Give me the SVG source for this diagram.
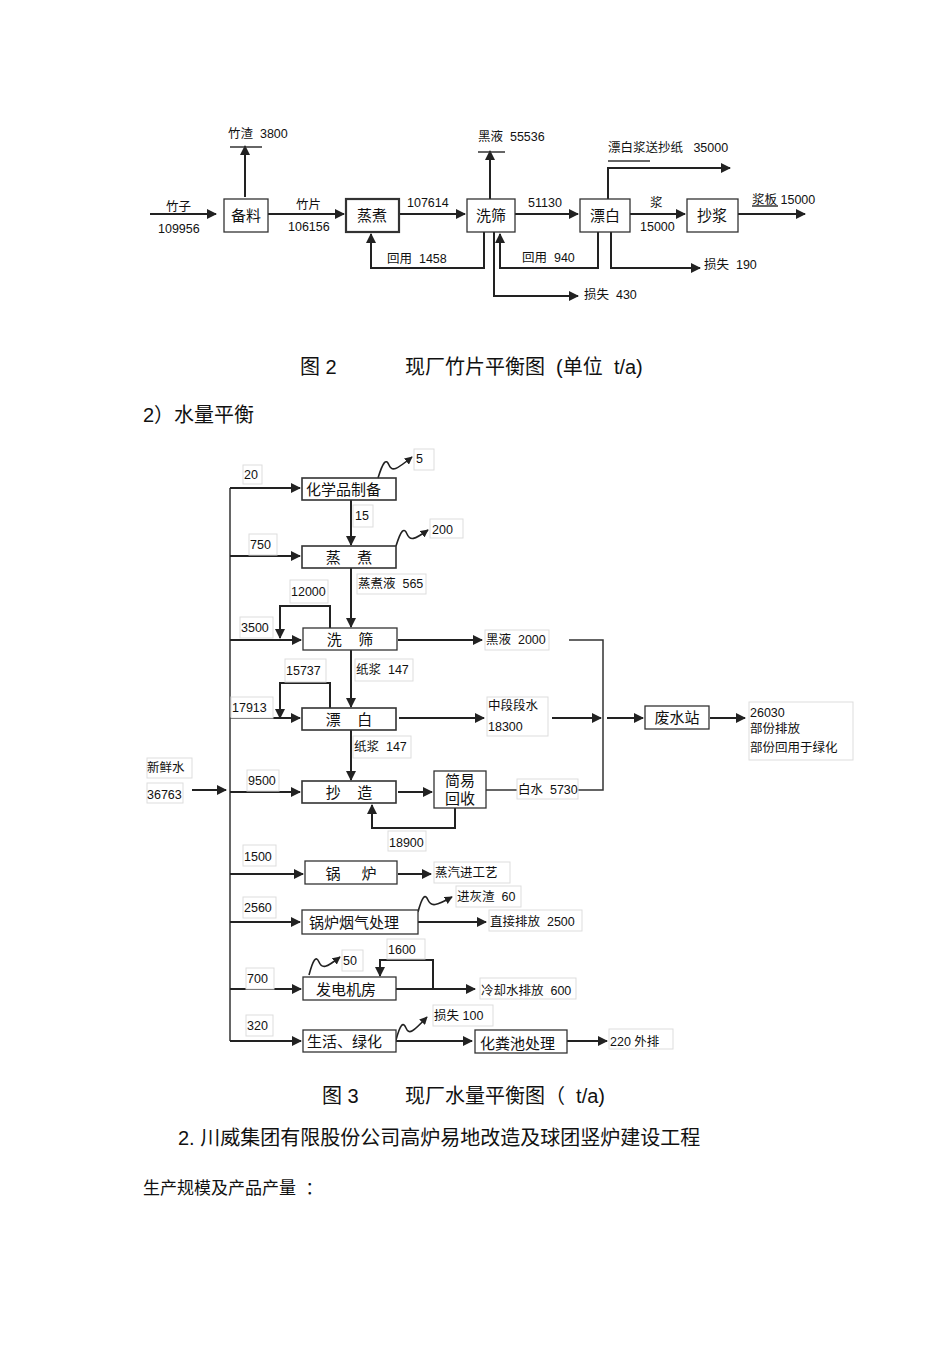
<svg xmlns="http://www.w3.org/2000/svg" width="950" height="1345" viewBox="0 0 950 1345" xml:space="preserve">
<style>
text{font-family:"Liberation Sans","Noto Sans CJK SC",sans-serif;fill:#111;white-space:pre}
.s{font-size:12.5px}.b{font-size:15px}.c{font-size:20px}
.bx{fill:#fff;stroke:#333;stroke-width:1.3}
.tb{fill:none;stroke:#333;stroke-width:2.2}
.lb{fill:#fff;stroke:#ddd;stroke-width:1}
.ln{fill:none;stroke:#333;stroke-width:1.5}
.ar{fill:none;stroke:#222;stroke-width:2;marker-end:url(#a)}
.wv{fill:none;stroke:#222;stroke-width:1.6;marker-end:url(#a)}
</style>
<defs><marker id="a" viewBox="0 0 10 10" refX="9" refY="5" markerWidth="5" markerHeight="5" orient="auto"><path d="M0,0L10,5L0,10z" fill="#222"/></marker></defs>
<rect width="950" height="1345" fill="#fff"/>
<g id="connectors1">
<path class="ar" d="M150,214H216"/>
<path class="ar" d="M268,214H344"/>
<path class="ar" d="M399,214H465"/>
<path class="ar" d="M515,214H578"/>
<path class="ar" d="M630,214H685"/>
<path class="ar" d="M738,214H805"/>
<path class="ar" d="M245,197V146"/>
<path class="ln" d="M230,147H262"/>
<path class="ar" d="M490,199V151"/>
<path class="ln" d="M478,152H505"/>
<path class="ar" d="M608,199V168H730"/>
<path class="ln" d="M608,161H650"/>
<path class="ar" d="M484,232V268H371V234"/>
<path class="ar" d="M598,232V268H500V234"/>
<path class="ar" d="M611,232V268H700"/>
<path class="ar" d="M494,232V296H578"/>
<path class="ln" d="M752,206H778"/>
</g>
<g id="fig1-nodes">
<g id="n-beiliao"><rect class="bx" x="224" y="199" width="44" height="33"/><text class="b" x="246" y="221" text-anchor="middle">备料</text></g>
<g id="n-zhengzhu"><rect class="tb" x="346" y="199" width="53" height="33"/><text class="b" x="372" y="221" text-anchor="middle">蒸煮</text></g>
<g id="n-xishai"><rect class="bx" x="467" y="199" width="48" height="33"/><text class="b" x="491" y="221" text-anchor="middle">洗筛</text></g>
<g id="n-piaobai"><rect class="bx" x="580" y="199" width="50" height="33"/><text class="b" x="605" y="221" text-anchor="middle">漂白</text></g>
<g id="n-chaojiang"><rect class="bx" x="687" y="199" width="51" height="33"/><text class="b" x="712" y="221" text-anchor="middle">抄浆</text></g>
</g>
<g id="fig1-labels" class="s">
<text x="166" y="211">竹子</text><text x="158" y="233">109956</text>
<text x="228" y="138">竹渣  3800</text>
<text x="296" y="209">竹片</text><text x="288" y="231">106156</text>
<text x="407" y="207">107614</text>
<text x="478" y="141">黑液  55536</text>
<text x="528" y="207">51130</text>
<text x="608" y="152">漂白浆送抄纸   35000</text>
<text x="650" y="207">浆</text><text x="640" y="231">15000</text>
<text x="752" y="204">浆板 15000</text>
<text x="387" y="263">回用  1458</text>
<text x="522" y="262">回用  940</text>
<text x="704" y="269">损失  190</text>
<text x="584" y="299">损失  430</text>
</g>
<text class="c" x="300" y="374">图 2</text>
<text class="c" x="405" y="374">现厂竹片平衡图  (单位  t/a)</text>
<text class="c" x="143" y="422">2）水量平衡</text>
<g id="connectors2">
<path class="ln" d="M230,488V1041"/>
<path class="ar" d="M192,790H226"/>
<path class="ar" d="M230,488H300"/>
<path class="ar" d="M230,556H300"/>
<path class="ar" d="M230,640H301"/>
<path class="ar" d="M230,718H300"/>
<path class="ar" d="M230,792H300"/>
<path class="ar" d="M230,874H303"/>
<path class="ar" d="M230,922H300"/>
<path class="ar" d="M230,989H301"/>
<path class="ar" d="M230,1041H301"/>
<path class="ar" d="M351,500V545"/>
<path class="ar" d="M351,568V627"/>
<path class="ar" d="M351,650V707"/>
<path class="ar" d="M351,730V780"/>
<path class="ar" d="M330,628V606H280V638"/>
<path class="ar" d="M330,708V683H280V718"/>
<path class="ar" d="M398,640H482"/>
<path class="ln" d="M569,640H603V790H578"/>
<path class="ar" d="M399,718H484"/>
<path class="ar" d="M552,718H601"/>
<path class="ar" d="M607,718H643"/>
<path class="ar" d="M710,718H745"/>
<path class="ar" d="M398,792H432"/>
<path class="ln" d="M486,790H517"/>
<path class="ar" d="M455,808V828H372V805"/>
<path class="ar" d="M398,874H431"/>
<path class="ar" d="M418,922H486"/>
<path class="ar" d="M396,989H475"/>
<path class="ar" d="M433,989V960H380V976"/>
<path class="ar" d="M396,1041H472"/>
<path class="ar" d="M567,1041H607"/>
<path class="wv" d="M378,478C383,462 386,458 389,465C392,472 396,470 412,457"/>
<path class="wv" d="M396,546C401,530 404,527 407,534C410,541 414,540 428,530"/>
<path class="wv" d="M418,912C422,897 425,893 428,900C431,907 436,906 452,897"/>
<path class="wv" d="M309,975C313,960 316,955 319,962C322,969 326,968 340,957"/>
<path class="wv" d="M396,1040C400,1025 403,1021 406,1028C409,1035 413,1032 427,1017"/>
</g>
<g id="fig2-nodes">
<g id="n-chem"><rect class="tb" x="302" y="478" width="94" height="22" style="stroke-width:1.6"/><text class="b" x="306" y="495">化学品制备</text></g>
<g id="n-zz"><rect class="bx" x="302" y="546" width="94" height="22" style="stroke-width:1.6"/><text class="b" x="349" y="563" text-anchor="middle">蒸    煮</text></g>
<g id="n-xs"><rect class="bx" x="303" y="628" width="94" height="22"/><text class="b" x="350" y="645" text-anchor="middle">洗    筛</text></g>
<g id="n-pb"><rect class="bx" x="302" y="708" width="94" height="22" style="stroke-width:1.6"/><text class="b" x="349" y="725" text-anchor="middle">漂    白</text></g>
<g id="n-cz"><rect class="bx" x="302" y="781" width="94" height="22" style="stroke-width:1.6"/><text class="b" x="349" y="798" text-anchor="middle">抄    造</text></g>
<g id="n-jy"><rect class="bx" x="434" y="771" width="52" height="37"/><text class="b" x="460" y="786" text-anchor="middle">简易</text><text class="b" x="460" y="804" text-anchor="middle">回收</text></g>
<g id="n-fs"><rect class="bx" x="645" y="706" width="64" height="23"/><text class="b" x="677" y="723" text-anchor="middle">废水站</text></g>
<g id="n-gl"><rect class="bx" x="305" y="861" width="92" height="23"/><text class="b" x="351" y="879" text-anchor="middle">锅     炉</text></g>
<g id="n-gly"><rect class="bx" x="302" y="910" width="116" height="24"/><text class="b" x="309" y="928">锅炉烟气处理</text></g>
<g id="n-fd"><rect class="bx" x="303" y="977" width="93" height="23"/><text class="b" x="316" y="995">发电机房</text></g>
<g id="n-sh"><rect class="bx" x="303" y="1030" width="93" height="22"/><text class="b" x="307" y="1047">生活、绿化</text></g>
<g id="n-hf"><rect class="bx" x="475" y="1030" width="92" height="23"/><text class="b" x="480" y="1049">化粪池处理</text></g>
</g>
<g id="fig2-labels" class="s">
<rect class="lb" x="243" y="465" width="19" height="19"/><text x="244" y="479">20</text>
<rect class="lb" x="414" y="449" width="20" height="21"/><text x="416" y="463">5</text>
<rect class="lb" x="353" y="505" width="20" height="22"/><text x="355" y="520">15</text>
<rect class="lb" x="249" y="534" width="28" height="21"/><text x="250" y="549">750</text>
<rect class="lb" x="430" y="519" width="33" height="19"/><text x="432" y="534">200</text>
<rect class="lb" x="357" y="574" width="69" height="20"/><text x="358" y="588">蒸煮液  565</text>
<rect class="lb" x="290" y="580" width="38" height="23"/><text x="291" y="596">12000</text>
<rect class="lb" x="240" y="617" width="33" height="21"/><text x="241" y="632">3500</text>
<rect class="lb" x="485" y="630" width="64" height="20"/><text x="486" y="644">黑液  2000</text>
<rect class="lb" x="355" y="659" width="58" height="22"/><text x="356" y="674">纸浆  147</text>
<rect class="lb" x="285" y="659" width="41" height="23"/><text x="286" y="675">15737</text>
<rect class="lb" x="231" y="697" width="42" height="21"/><text x="232" y="712">17913</text>
<rect class="lb" x="487" y="697" width="61" height="39"/><text x="488" y="710">中段段水</text><text x="488" y="731">18300</text>
<rect class="lb" x="749" y="702" width="104" height="58"/><text x="750" y="717">26030</text><text x="750" y="733">部份排放</text><text x="750" y="752">部份回用于绿化</text>
<rect class="lb" x="353" y="736" width="58" height="22"/><text x="354" y="751">纸浆  147</text>
<rect class="lb" x="147" y="758" width="45" height="20"/><text x="147" y="772">新鲜水</text>
<rect class="lb" x="147" y="783" width="36" height="20"/><text x="147" y="799">36763</text>
<rect class="lb" x="247" y="770" width="32" height="21"/><text x="248" y="785">9500</text>
<rect class="lb" x="517" y="779" width="61" height="20"/><text x="518" y="794">白水  5730</text>
<rect class="lb" x="388" y="831" width="38" height="20"/><text x="389" y="847">18900</text>
<rect class="lb" x="243" y="845" width="33" height="21"/><text x="244" y="861">1500</text>
<rect class="lb" x="434" y="862" width="76" height="21"/><text x="435" y="877">蒸汽进工艺</text>
<rect class="lb" x="456" y="886" width="65" height="21"/><text x="457" y="901">进灰渣  60</text>
<rect class="lb" x="243" y="897" width="33" height="21"/><text x="244" y="912">2560</text>
<rect class="lb" x="489" y="910" width="93" height="21"/><text x="490" y="926">直接排放  2500</text>
<rect class="lb" x="387" y="939" width="38" height="20"/><text x="388" y="954">1600</text>
<rect class="lb" x="342" y="950" width="21" height="21"/><text x="343" y="965">50</text>
<rect class="lb" x="246" y="968" width="28" height="21"/><text x="247" y="983">700</text>
<rect class="lb" x="480" y="978" width="96" height="21"/><text x="481" y="995">冷却水排放  600</text>
<rect class="lb" x="433" y="1005" width="60" height="21"/><text x="434" y="1020">损失 100</text>
<rect class="lb" x="246" y="1015" width="27" height="21"/><text x="247" y="1030">320</text>
<rect class="lb" x="609" y="1029" width="64" height="20"/><text x="610" y="1046">220 外排</text>
</g>
<text class="c" x="322" y="1103">图 3</text>
<text class="c" x="405" y="1103">现厂水量平衡图（  t/a)</text>
<text class="c" x="178" y="1145">2. 川威集团有限股份公司高炉易地改造及球团竖炉建设工程</text>
<text x="143" y="1194" style="font-size:17px">生产规模及产品产量  ：</text>
</svg>
